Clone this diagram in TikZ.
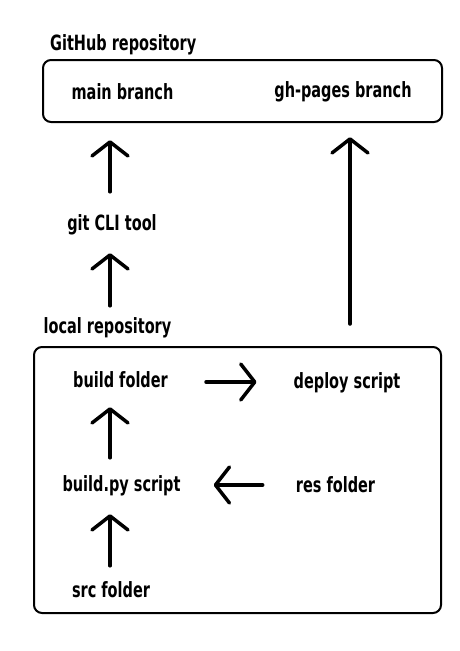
\documentclass[tikz,border=0pt]{standalone}
\usepackage{fontspec}
\setmainfont{DejaVu Sans}[FakeStretch=0.69]
\usetikzlibrary{arrows.meta}
\tikzset{
  lbl/.style={font=\bfseries\fontsize{21}{24}\selectfont, inner sep=0pt, text height=16pt, text depth=5pt, anchor=base},
  group/.style={draw, line width=2pt, rounded corners=8pt, inner sep=0pt},
  arr/.style={line width=3.5pt, line cap=round, -{Straight Barb[length=14pt,width=36pt,round]}}
}
\begin{document}
\begin{tikzpicture}[x=1pt,y=-1pt]
\useasboundingbox (0,0) rectangle (460,651);
\coordinate (colL) at (110,0);
\coordinate (colR) at (350,0);
% GitHub repository
\node[group, minimum width=399pt, minimum height=62pt] (gh) at (242.5,91) {};
\node[lbl, anchor=base west] (ghlbl) at (50,50) {GitHub repository};
\node[lbl] (main) at (122.5,99) {main branch};
\node[lbl] (pages) at (343,97.5) {gh-pages branch};
% git
\node[lbl] (git) at (112,230) {git CLI tool};
% local repository
\node[lbl] (local) at (107.5,333) {local repository};
\node[group, minimum width=407pt, minimum height=266pt] (loc) at (237.5,480) {};
\node[lbl] (build) at (120.5,387) {build folder};
\node[lbl] (deploy) at (347,388) {deploy script};
\node[lbl] (buildpy) at (121.5,491) {build.py script};
\node[lbl] (res) at (335.5,492) {res folder};
\node[lbl] (src) at (111,597) {src folder};
% arrows
\draw[arr, shorten <=22pt, shorten >=36pt] (git.north -| colL) -- (main.south -| colL);
\draw[arr, shorten <=11pt, shorten >=18pt] (local.north -| colL) -- (git.south -| colL);
\draw[arr, shorten <=22pt, shorten >=34.5pt] (loc.north -| colR) -- (pages.south -| colR);
\draw[arr] ([xshift=38pt]build.east |- 0,382) -- ([xshift=-37pt]deploy.west |- 0,382);
\draw[arr] ([xshift=-33pt]res.west |- 0,485) -- ([xshift=33pt]buildpy.east |- 0,485);
\draw[arr, shorten <=17pt, shorten >=15pt] (buildpy.north -| colL) -- (build.south -| colL);
\draw[arr, shorten <=15pt, shorten >=18pt] (src.north -| colL) -- (buildpy.south -| colL);
\end{tikzpicture}
\end{document}
